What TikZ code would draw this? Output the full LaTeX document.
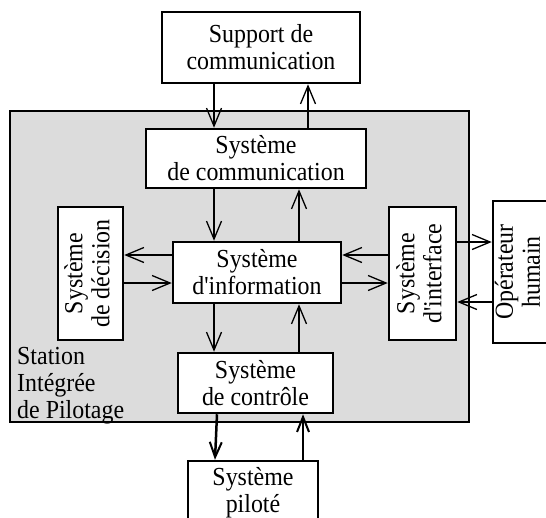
\documentclass[tikz,border=0pt]{standalone}
\usepackage{fontspec}
\setmainfont{Liberation Serif}[FakeStretch=0.92, Ligatures=TeXOff]
\usepackage{graphicx}
\usetikzlibrary{arrows.meta}
\definecolor{stationgray}{RGB}{220,220,220}
\begin{document}
\begin{tikzpicture}[x=1pt,y=-1pt,
  box/.style={draw, line width=2.5pt, fill=white, align=center, inner sep=0pt,
    font=\fontsize{26}{27}\selectfont},
  lbl/.style={align=left, inner sep=0pt, font=\fontsize{26}{27}\selectfont},
  arr/.style={line width=2pt, -{Straight Barb[length=18pt,width=15pt,line width=1.3pt]}},
  thickarr/.style={line width=2.5pt, -{Straight Barb[length=15pt,width=12pt,line width=2pt]}}]
\useasboundingbox (0,0) rectangle (546,517);
% station
\node[draw, line width=2.5pt, fill=stationgray, minimum width=459pt, minimum height=311pt, inner sep=0pt] (station) at (239.5,266.5) {};
\node[lbl, anchor=north west] (stationlbl) at (17,347) {Station\\Intégrée\\de Pilotage};
% boxes
\node[box, minimum width=198pt, minimum height=71pt] (support) at (261,47.5) {Support de\\communication};
\node[box, minimum width=220pt, minimum height=59pt] (comm) at (256,158.5) {Système\\de communication};
\node[box, minimum width=168pt, minimum height=61pt] (info) at (257,272.5) {Système\\d'information};
\node[box, minimum width=65pt, minimum height=133pt] (decision) at (90.5,273.5)
  {\rotatebox{90}{\begin{tabular}{@{}c@{}}Système\\de décision\end{tabular}}};
\node[box, minimum width=67pt, minimum height=133pt] (interface) at (422.5,273.5)
  {\rotatebox{90}{\begin{tabular}{@{}c@{}}Système\\d'interface\end{tabular}}};
\node[box, minimum width=56pt, minimum height=142pt] (operateur) at (521,272)
  {\rotatebox{90}{\begin{tabular}{@{}c@{}}Opérateur\\humain\end{tabular}}};
\node[box, minimum width=155pt, minimum height=60pt] (controle) at (255.5,383) {Système\\de contrôle};
\node[box, minimum width=130pt, minimum height=64pt] (pilote) at (253,493) {Système\\piloté};
% vertical arrows
\draw[arr] (support.south -| 214,0) -- (comm.north -| 214,0);
\draw[arr] (comm.north -| 308,0) -- (support.south -| 308,0);
\draw[arr] (comm.south -| 214,0) -- (info.north -| 214,0);
\draw[arr] (info.north -| 299,0) -- (comm.south -| 299,0);
\draw[arr] (info.south -| 214,0) -- (controle.north -| 214,0);
\draw[arr] (controle.north -| 299,0) -- (info.south -| 299,0);
\draw[thickarr] (controle.south -| 217,0) -- (pilote.north -| 215,0);
\draw[thickarr] (pilote.north -| 303,0) -- (controle.south -| 303,0);
% horizontal arrows
\draw[arr] (info.west |- 0,255) -- (decision.east |- 0,255);
\draw[arr] (decision.east |- 0,283) -- (info.west |- 0,283);
\draw[arr] (interface.west |- 0,255) -- (info.east |- 0,255);
\draw[arr] (info.east |- 0,283) -- (interface.west |- 0,283);
\draw[arr] (interface.east |- 0,242) -- (operateur.west |- 0,242);
\draw[arr] (operateur.west |- 0,302) -- (interface.east |- 0,302);
\end{tikzpicture}
\end{document}
